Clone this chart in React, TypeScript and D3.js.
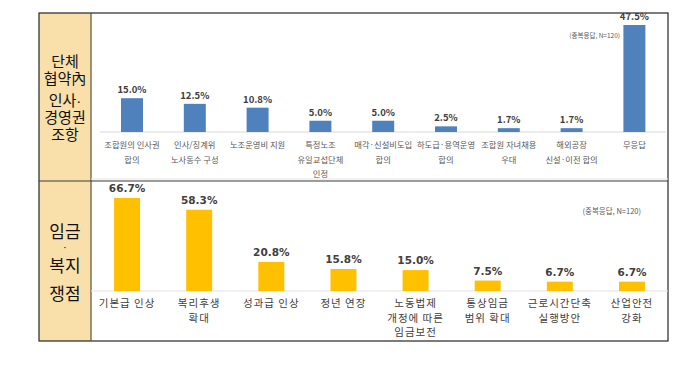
import React from "react";
import * as d3 from "d3";

// top panel: 단체협약 내 인사·경영권 조항
const topCategories = [
  "조합원의 인사권\n합의",
  "인사/징계위\n노사동수 구성",
  "노조운영비 지원",
  "특정노조\n유일교섭단체\n인정",
  "매각·신설비도입\n합의",
  "하도급·용역운영\n합의",
  "조합원 자녀채용\n우대",
  "해외공장\n신설·이전 합의",
  "무응답",
];
const topValues = [15.0, 12.5, 10.8, 5.0, 5.0, 2.5, 1.7, 1.7, 47.5];

// bottom panel: 임금·복지 쟁점
const bottomCategories = [
  "기본급 인상",
  "복리후생\n확대",
  "성과급 인상",
  "정년 연장",
  "노동법제\n개정에 따른\n임금보전",
  "통상임금\n범위 확대",
  "근로시간단축\n실행방안",
  "산업안전\n강화",
];
const bottomValues = [66.7, 58.3, 20.8, 15.8, 15.0, 7.5, 6.7, 6.7];

const topSideLabel = ["단체", "협약內", "인사·", "경영권", "조항"];
const bottomSideLabel = ["임금", "·", "복지", "쟁점"];
const noteText = "(중복응답, N=120)";

const KR = "'Noto Sans CJK KR', 'Noto Sans', sans-serif";
// tighter line metrics for the stacked side titles; hangul falls back to Noto CJK
const SIDE = "'Liberation Sans', 'Noto Sans CJK KR', sans-serif";

export default function App() {
  const W = 699;
  const H = 367;
  const box = { left: 39, top: 13, right: 668, bottom: 341, side: 91, split: 181 };

  const xTop = d3
    .scaleBand<string>()
    .domain(topCategories)
    .range([100.6, 665.8])
    .paddingInner(0.65)
    .paddingOuter(0.325);
  const yTop = d3.scaleLinear().domain([0, 47.5]).range([132, 25]);

  const xBot = d3
    .scaleBand<string>()
    .domain(bottomCategories)
    .range([91, 668])
    .paddingInner(0.64)
    .paddingOuter(0.32);
  const yBot = d3.scaleLinear().domain([0, 66.7]).range([291, 198]);

  const fmt = (v: number) => `${v.toFixed(1)}%`;

  // baselines of the stacked side-label lines
  const topSideY = [67, 84, 106, 123, 140];
  const bottomSideY = [238, 250, 272, 300];

  return (
    <svg
      width={W}
      height={H}
      style={{ position: "absolute", left: 0, top: 0, background: "#fff" }}
    >
      {/* side label panel */}
      <rect
        x={box.left}
        y={box.top}
        width={box.side - box.left}
        height={box.bottom - box.top}
        fill="#f9e0ab"
      />
      <rect
        x={box.left}
        y={box.top}
        width={box.right - box.left}
        height={box.bottom - box.top}
        fill="none"
        stroke="#262626"
        strokeWidth={1.2}
      />
      <line x1={box.side} x2={box.side} y1={box.top} y2={box.bottom} stroke="#5c5040" strokeWidth={1.2} />
      <line x1={box.left} x2={box.right} y1={box.split} y2={box.split} stroke="#3a3a3a" strokeWidth={1.2} />

      {topSideLabel.map((t, i) => (
        <text key={t} x={65} y={topSideY[i]} textAnchor="middle" fontFamily={SIDE} fontSize={15} fill="#111">
          {t}
        </text>
      ))}
      {bottomSideLabel.map((t, i) => (
        <text
          key={t}
          x={65}
          y={bottomSideY[i]}
          textAnchor="middle"
          fontFamily={SIDE}
          fontSize={t === "·" ? 8 : 17}
          fontWeight={t === "·" ? "bold" : "normal"}
          fill="#111"
        >
          {t}
        </text>
      ))}

      {/* top chart */}
      <line x1={100} x2={666} y1={yTop(0)} y2={yTop(0)} stroke="#d9d9d9" strokeWidth={1} />
      <line x1={box.side} x2={box.right} y1={179} y2={179} stroke="#e6e6e6" strokeWidth={1} />
      {topCategories.map((c, i) => (
        <g key={c}>
          <rect
            x={xTop(c)}
            y={yTop(topValues[i])}
            width={xTop.bandwidth()}
            height={yTop(0) - yTop(topValues[i])}
            fill="#4f81bd"
          />
          <text
            x={(xTop(c) as number) + xTop.bandwidth() / 2}
            y={yTop(topValues[i]) - 5}
            textAnchor="middle"
            fontFamily={KR}
            fontWeight="bold"
            fontSize={9.5}
            fill="#404040"
          >
            {fmt(topValues[i])}
          </text>
          {c.split("\n").map((line, j) => (
            <text
              key={j}
              x={(xTop(c) as number) + xTop.bandwidth() / 2}
              y={148 + j * 14.5}
              textAnchor="middle"
              fontFamily={KR}
              fontSize={8.3}
              fill="#595959"
            >
              {line}
            </text>
          ))}
        </g>
      ))}
      <text x={620} y={38} textAnchor="end" fontFamily={KR} fontSize={6.5} fill="#595959">
        {noteText}
      </text>

      {/* bottom chart */}
      <line x1={box.side} x2={box.right} y1={yBot(0)} y2={yBot(0)} stroke="#e3e3e3" strokeWidth={1} />
      {bottomCategories.map((c, i) => (
        <g key={c}>
          <rect
            x={xBot(c)}
            y={yBot(bottomValues[i])}
            width={xBot.bandwidth()}
            height={yBot(0) - yBot(bottomValues[i])}
            fill="#ffc000"
          />
          <text
            x={(xBot(c) as number) + xBot.bandwidth() / 2}
            y={yBot(bottomValues[i]) - 6}
            textAnchor="middle"
            fontFamily="'DejaVu Sans', Verdana, sans-serif"
            fontWeight="bold"
            fontSize={10.5}
            fill="#404040"
          >
            {fmt(bottomValues[i])}
          </text>
          {c.split("\n").map((line, j) => (
            <text
              key={j}
              x={(xBot(c) as number) + xBot.bandwidth() / 2}
              y={307 + j * 14.5}
              textAnchor="middle"
              fontFamily={KR}
              fontSize={10.5}
              letterSpacing={1}
              fill="#404040"
            >
              {line}
            </text>
          ))}
        </g>
      ))}
      <text x={641} y={214} textAnchor="end" fontFamily={KR} fontSize={7.5} fill="#595959">
        {noteText}
      </text>
    </svg>
  );
}
